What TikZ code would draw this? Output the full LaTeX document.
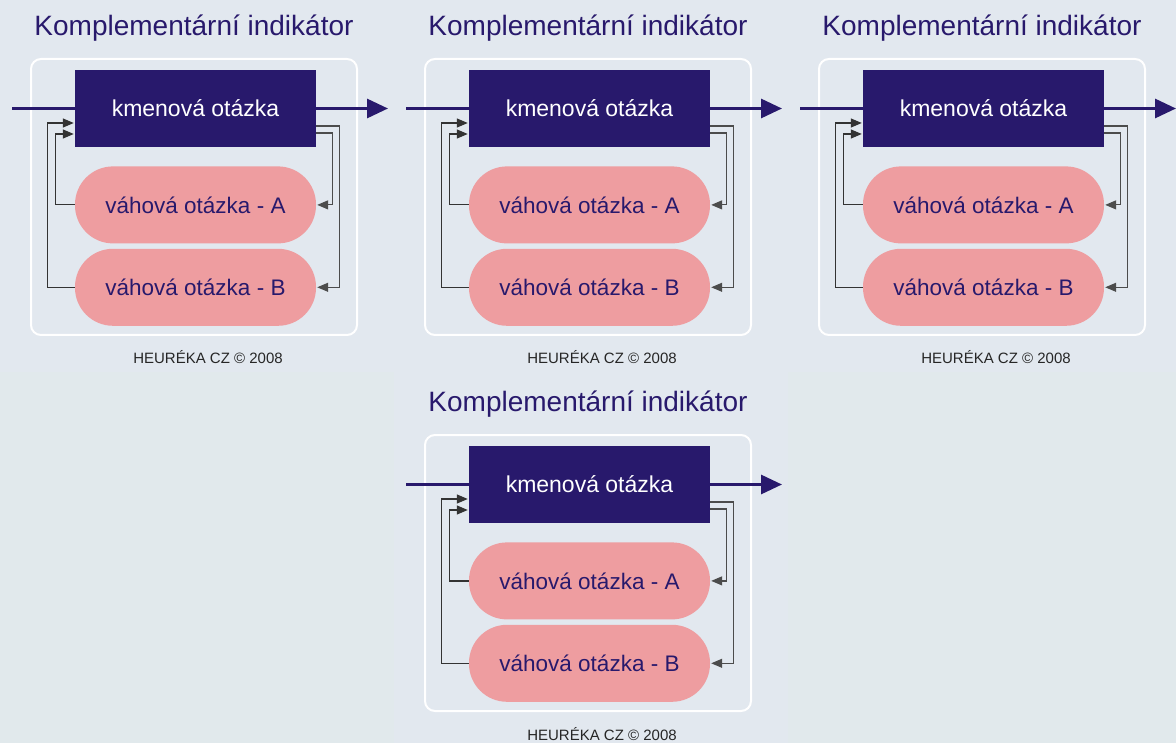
\documentclass[tikz,border=0pt]{standalone}
\usepackage{fontspec}
\setmainfont{Liberation Sans}
\usetikzlibrary{arrows.meta,positioning}

\definecolor{navy}{HTML}{28196C}
\definecolor{rose}{HTML}{EE9DA0}
\definecolor{tilebg}{HTML}{E2E8EF}
\definecolor{pagebg}{HTML}{E1E9EC}

\begin{document}
\begin{tikzpicture}[x=1pt,y=-1pt,node distance=19pt,
  stembox/.style={fill=navy,text=white,minimum width=241pt,minimum height=77pt,inner sep=0pt,font=\fontsize{23}{26}\selectfont},
  weightbox/.style={fill=rose,text=navy,rounded corners=38pt,minimum width=241pt,minimum height=77pt,inner sep=0pt,font=\fontsize{22.5}{26}\selectfont},
  mainline/.style={draw=navy,line width=3pt},
  fback/.style={draw=black!80,line width=1.2pt,shorten >=1pt,-{Triangle[length=11pt,width=9pt]}}]

  \useasboundingbox (0,0) rectangle (1176,743);
  \fill[pagebg] (0,0) rectangle (1176,743);
  \fill[tilebg] (0,0) rectangle (394,372);
  \fill[tilebg] (394,0) rectangle (788,372);
  \fill[tilebg] (788,0) rectangle (1176,372);
  \fill[tilebg] (394,372) rectangle (788,743);

  \foreach \i/\dx/\dy in {1/0/0,2/394/0,3/788/0,4/394/376}{
  \begin{scope}[shift={(\dx,\dy)}]
    \draw[white,line width=2pt,rounded corners=10pt] (31,59) rectangle (357,335);
    \node[anchor=base,text=navy,font=\fontsize{28}{30}\selectfont] (t\i) at (194,36) {Komplementární indikátor};

    \node[stembox]   (k\i) at (195.5,108.5)  {kmenová otázka};
    \node[weightbox] (a\i) [below=of k\i]     {váhová otázka - A};
    \node[weightbox] (b\i) [below=5pt of a\i] {váhová otázka - B};
    \node[anchor=base,text=black!85,font=\fontsize{15}{18}\selectfont] (c\i) at (208,364) {HEURÉKA CZ © 2008};

    \coordinate (in\i)  at (12,108.5);
    \coordinate (out\i) at (388,108.5);
    \draw[mainline] (in\i) -- (k\i.west);
    \draw[mainline,-{Triangle[length=21pt,width=19pt]}] (k\i.east) -- (out\i);

    % feedback loops
    \draw[fback] (a\i.west) -- ++(-19,0) |- ([yshift=-25.5pt]k\i.west);
    \draw[fback] (b\i.west) -- ++(-27,0) |- ([yshift=-14.5pt]k\i.west);
    \draw[fback,draw=black!70] ([yshift=-24.5pt]k\i.east) -- ++(16,0) |- (a\i.east);
    \draw[fback,draw=black!70] ([yshift=-17.5pt]k\i.east) -- ++(23,0) |- (b\i.east);
  \end{scope}}
\end{tikzpicture}
\end{document}
